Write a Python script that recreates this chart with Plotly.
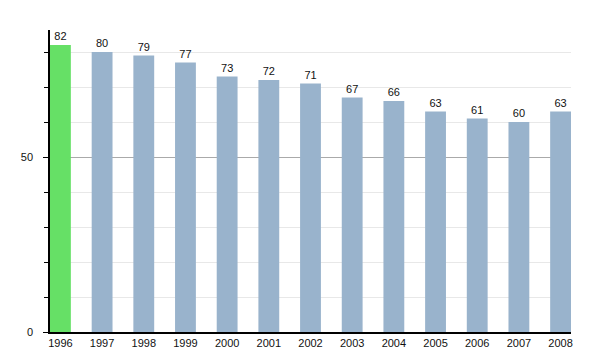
import plotly.graph_objects as go

years = ["1996", "1997", "1998", "1999", "2000", "2001", "2002",
         "2003", "2004", "2005", "2006", "2007", "2008"]
values = [82, 80, 79, 77, 73, 72, 71, 67, 66, 63, 61, 60, 63]
highlight_year = "1996"

colors = ["#66e066" if y == highlight_year else "#99b3cc" for y in years]

fig = go.Figure(
    go.Bar(
        x=years,
        y=values,
        marker=dict(color=colors, line=dict(width=0)),
        width=0.5,
        text=[str(v) for v in values],
        textposition="outside",
        textfont=dict(size=11, color="#111111", family="Liberation Sans, Arial, sans-serif"),
        cliponaxis=False,
    )
)

fig.update_layout(
    width=600,
    height=350,
    margin=dict(l=50, r=29, t=30, b=18),
    paper_bgcolor="white",
    plot_bgcolor="white",
    showlegend=False,
    font=dict(family="Liberation Sans, Arial, sans-serif", size=11, color="#111111"),
    bargap=0.5,
)

fig.update_xaxes(
    type="category",
    range=[-0.25, 12.25],
    automargin=False,
    showline=True,
    linecolor="#000000",
    linewidth=1.5,
    ticks="",
    showgrid=False,
    tickfont=dict(size=11, color="#111111"),
)

fig.update_yaxes(
    range=[0, 86.3],
    tickvals=[0, 50],
    automargin=False,
    showline=True,
    linecolor="#000000",
    linewidth=1.5,
    ticks="outside",
    ticklen=5,
    tickcolor="#000000",
    ticklabelstandoff=8,
    showgrid=True,
    gridcolor="#aaaaaa",
    gridwidth=1,
    zeroline=False,
    minor=dict(
        dtick=10,
        tick0=0,
        ticks="outside",
        ticklen=4,
        tickcolor="#000000",
        showgrid=True,
        gridcolor="#e8e8e8",
        gridwidth=1,
    ),
    tickfont=dict(size=11, color="#111111"),
)

fig.write_html("out.html")
